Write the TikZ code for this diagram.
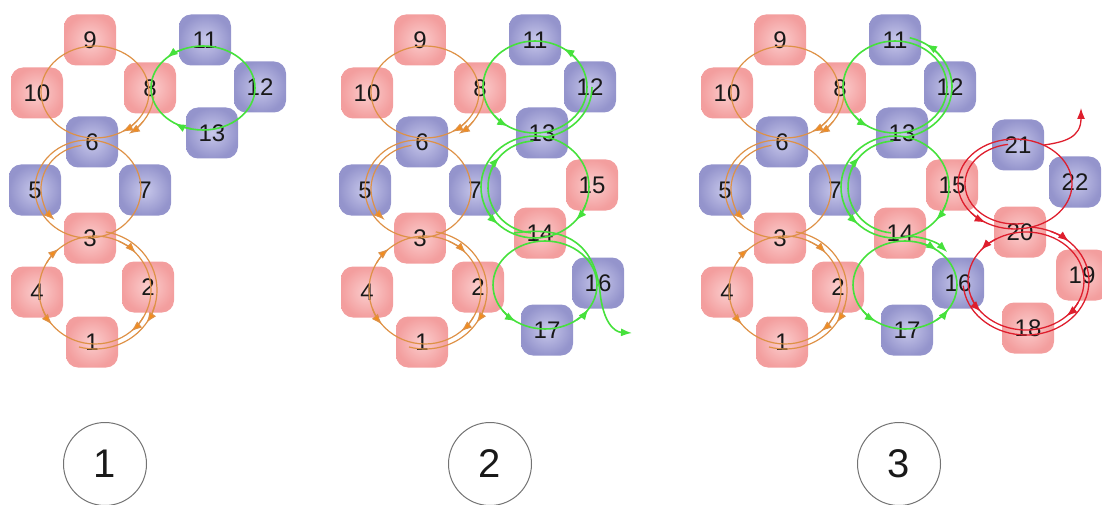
\documentclass[tikz,border=0pt]{standalone}
\usepackage{fontspec}
\setmainfont{Liberation Sans}
\usetikzlibrary{arrows.meta}
\definecolor{pinkE}{RGB}{243,158,158}
\definecolor{pinkC}{RGB}{251,206,206}
\definecolor{blueE}{RGB}{148,148,204}
\definecolor{blueC}{RGB}{200,200,235}
\definecolor{orn}{RGB}{222,145,70}
\definecolor{ornA}{RGB}{245,140,25}
\definecolor{grn}{RGB}{70,225,60}
\definecolor{rd}{RGB}{222,30,45}
\definecolor{txt}{RGB}{25,25,25}
\tikzset{
  box/.style={rounded corners=12pt, minimum width=52pt, minimum height=51pt, inner sep=0pt,
    text=txt, font=\fontsize{24}{26}\selectfont},
  pinkbox/.style={box, inner color=pinkC, outer color=pinkE},
  bluebox/.style={box, inner color=blueC, outer color=blueE},
  oline/.style={orn, line width=1.2pt},
  oarr/.style={orn, line width=1.2pt, -{Latex[length=11pt,width=8pt,fill=ornA]}},
  gline/.style={grn, line width=1.6pt},
  garr/.style={grn, line width=1.6pt, -{Latex[length=11pt,width=8pt]}},
  rline/.style={rd, line width=1.3pt},
  rarr/.style={rd, line width=1.3pt, -{Latex[length=11pt,width=8pt]}},
  stage/.style={draw=black!55, line width=1pt, circle, minimum size=83pt, inner sep=0pt,
    text=txt, font=\fontsize{40}{42}\selectfont}
}
\newcommand\ringall[5]{\draw[#1] (#2,#3) ellipse[x radius=#4,y radius=#5];}
\newcommand\strand[7]{\draw[#1] (#2,#3) ++(#6:#4 and #5) arc[start angle=#6,end angle=#7,x radius=#4,y radius=#5];}
\newcommand\coreNodes[1]{%
  \node[pinkbox] (#11) at (92,342) {1};
  \node[pinkbox] (#12) at (148,287) {2};
  \node[pinkbox] (#13) at (90,238) {3};
  \node[pinkbox] (#14) at (37,292) {4};
  \node[bluebox] (#15) at (35,190) {5};
  \node[bluebox] (#16) at (92,142) {6};
  \node[bluebox] (#17) at (145,190) {7};
  \node[pinkbox] (#18) at (150,88) {8};
  \node[pinkbox] (#19) at (90,40) {9};
  \node[pinkbox] (#110) at (37,93) {10};
  \node[bluebox] (#111) at (205,40) {11};
  \node[bluebox] (#112) at (260,87) {12};
  \node[bluebox] (#113) at (212,133) {13};}
\newcommand\midNodes[1]{%
  \node[pinkbox] (#114) at (210,233) {14};
  \node[pinkbox] (#115) at (262,185) {15};
  \node[bluebox] (#116) at (268,283) {16};
  \node[bluebox] (#117) at (217,330) {17};}
\newcommand\outNodes[1]{%
  \node[pinkbox] (#118) at (338,328) {18};
  \node[pinkbox] (#119) at (392,275) {19};
  \node[pinkbox] (#120) at (330,232) {20};
  \node[bluebox] (#121) at (328,145) {21};
  \node[bluebox] (#122) at (385,182) {22};}
\newcommand\orangeStrands{%
  % ring 9-8-6-10
  \ringall{oline}{95}{92}{54}{46}
  \strand{oline}{95}{92}{59}{51}{5}{52}
  \strand{oarr}{95}{92}{59}{51}{35}{55}
  \strand{oarr}{95}{92}{54}{46}{38}{60}
  % ring 6-7-3-5
  \ringall{oline}{88}{189}{53}{49}
  \strand{oarr}{88}{189}{47}{44}{262}{135}
  % ring 3-2-1-4
  \ringall{oline}{95}{290}{56}{54}
  \strand{oline}{95}{290}{62}{59}{280}{465}
  \strand{oarr}{95}{290}{56}{54}{295}{317}
  \strand{oarr}{95}{290}{62}{59}{15}{34}
  \strand{oarr}{95}{290}{56}{54}{30}{50}
  \strand{oarr}{95}{290}{56}{54}{160}{140}
  \strand{oarr}{95}{290}{56}{54}{210}{230}}
\begin{document}
\begin{tikzpicture}[x=1pt,y=-1pt]
\useasboundingbox (0,0) rectangle (1102,505);
% ---------------- panel 1
\begin{scope}
  \coreNodes{a}
  \orangeStrands
  \ringall{gline}{203}{88}{52}{42}
  \strand{garr}{203}{88}{52}{42}{246}{226}
  \strand{garr}{203}{88}{52}{42}{103}{123}
\end{scope}
% ---------------- panel 2
\begin{scope}[xshift=330pt]
  \coreNodes{b}
  \midNodes{b}
  \orangeStrands
  \ringall{gline}{205}{87}{52}{46}
  \strand{gline}{205}{87}{57}{51}{0}{80}
  \strand{garr}{205}{87}{52}{46}{141}{121}
  \strand{garr}{205}{87}{52}{46}{323}{303}
  \ringall{gline}{205}{187}{54}{51}
  \strand{gline}{205}{187}{47}{46}{268}{95}
  \strand{garr}{205}{187}{47}{46}{201}{221}
  \strand{garr}{205}{187}{54}{51}{153}{133}
  \strand{garr}{205}{187}{54}{51}{21}{41}
  \ringall{gline}{215}{285}{52}{44}
  \strand{garr}{215}{285}{52}{44}{144}{124}
  \strand{garr}{215}{285}{52}{44}{53}{33}
  \coordinate (bexit) at (302,333);
  \draw[garr] (b14.west) .. controls (232,226) and (264,240) .. (270,292)
      .. controls (273,322) and (284,332) .. (bexit);
\end{scope}
% ---------------- panel 3
\begin{scope}[xshift=690pt]
  \coreNodes{c}
  \midNodes{c}
  \outNodes{c}
  \orangeStrands
  \ringall{gline}{205}{87}{52}{46}
  \strand{gline}{205}{87}{57}{51}{285}{440}
  \strand{garr}{205}{87}{52}{46}{141}{121}
  \strand{garr}{205}{87}{57}{51}{323}{303}
  \ringall{gline}{205}{187}{54}{51}
  \strand{gline}{205}{187}{47}{46}{268}{95}
  \strand{garr}{205}{187}{47}{46}{201}{221}
  \strand{garr}{205}{187}{54}{51}{153}{133}
  \strand{garr}{205}{187}{54}{51}{21}{41}
  \ringall{gline}{215}{285}{52}{44}
  \strand{garr}{215}{285}{52}{44}{144}{124}
  \strand{garr}{215}{285}{52}{44}{53}{33}
  \strand{garr}{215}{285}{57}{49}{272}{318}
  \strand{garr}{215}{285}{52}{44}{288}{308}
  % red
  \ringall{rline}{325}{184}{57}{45}
  \strand{rline}{325}{184}{50}{40}{262}{80}
  \strand{rarr}{325}{184}{57}{45}{141}{121}
  \ringall{rline}{336}{281}{58}{49}
  \strand{rline}{336}{281}{63}{54}{275}{455}
  \strand{rline}{336}{281}{63}{54}{175}{95}
  \strand{rarr}{336}{281}{58}{49}{239}{219}
  \strand{rarr}{336}{281}{63}{54}{293}{313}
  \strand{rarr}{336}{281}{58}{49}{161}{141}
  \strand{rarr}{336}{281}{58}{49}{26}{46}
  \coordinate (cexit) at (391,108);
  \draw[rarr] (c21.east) .. controls (374,142) and (391,138) .. (cexit);
\end{scope}
% ---------------- stage labels
\node[stage] (s1) at (105,464) {1};
\node[stage] (s2) at (490,464) {2};
\node[stage] (s3) at (899,464) {3};
\end{tikzpicture}
\end{document}
